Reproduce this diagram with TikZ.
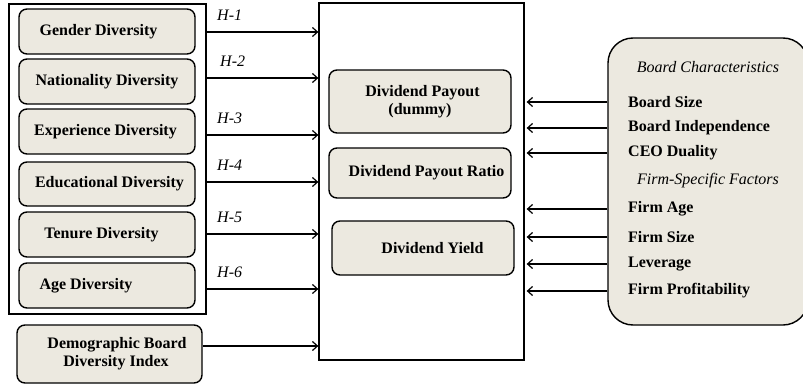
\documentclass[tikz,border=0pt]{standalone}
\usepackage{fontspec}
\setmainfont{Liberation Serif}
\usetikzlibrary{arrows.meta}

\definecolor{boxfill}{RGB}{236,233,224}

\tikzset{
  varbox/.style={draw, line width=1.4pt, rounded corners=8pt, fill=boxfill,
    align=center, font=\fontsize{16}{18}\selectfont\bfseries},
  frame/.style={draw, line width=1.3pt},
  link/.style={line width=1.1pt, -{Straight Barb[length=5pt,width=9pt,line width=1.2pt]}},
  hyp/.style={anchor=south west, xshift=9pt, yshift=10pt, inner sep=1pt,
    font=\fontsize{16}{18}\selectfont\itshape},
  item/.style={anchor=west, inner sep=0pt, font=\fontsize{16}{18}\selectfont\bfseries},
  head/.style={inner sep=0pt, font=\fontsize{16}{18}\selectfont\itshape}
}

\begin{document}
\begin{tikzpicture}[x=1pt,y=-1pt]
			\useasboundingbox (0,0) rectangle (803,388);
			% independent variables
			\node[frame, minimum width=197pt, minimum height=310pt] (frame) at (107.5,159) {};
			\node[varbox, minimum width=176pt, minimum height=45pt] (gender) at (107,31.5) {Gender Diversity\hspace*{17pt}};
			\node[varbox, minimum width=176pt, minimum height=45pt] (nation) at (107,81.5) {Nationality Diversity};
			\node[varbox, minimum width=176pt, minimum height=45pt] (exper) at (107,131.5) {Experience Diversity\hspace*{3pt}};
			\node[varbox, minimum width=176pt, minimum height=44pt] (educ) at (107,184) {\hspace*{5pt}Educational Diversity};
			\node[varbox, minimum width=176pt, minimum height=45pt] (tenure) at (107,234.5) {Tenure Diversity\hspace*{11pt}};
			\node[varbox, minimum width=176pt, minimum height=45pt] (age) at (107,285.5) {Age Diversity\hspace*{42pt}};
			\node[varbox, minimum width=185pt, minimum height=58pt] (dbdi) at (109.5,354) {\hspace*{15pt}Demographic Board\\\hspace*{13pt}Diversity Index};
			% dependent variables
			\node[frame, minimum width=205pt, minimum height=357pt] (model) at (421.5,181.5) {};
			\node[varbox, minimum width=182pt, minimum height=63pt] (payout) at (420,101.5) {\hspace*{5pt}Dividend Payout\\(dummy)};
			\node[varbox, minimum width=182pt, minimum height=50pt] (ratio) at (420,173) {\hspace*{13pt}Dividend Payout Ratio};
			\node[varbox, minimum width=182pt, minimum height=54pt] (yield) at (423,248) {\hspace*{19pt}Dividend Yield};
			% controls
			\node[draw, line width=1.4pt, fill=boxfill, rounded corners=25pt,
				minimum width=200pt, minimum height=287pt] (ctrl) at (708,181.5) {};
			\node[head] (bchar) at (708,67) {Board Characteristics};
			\node[item] (bsize) at (628,102) {Board Size};
			\node[item] (bindep) at (628,128) {Board Independence};
			\node[item] (ceo) at (628,153) {CEO Duality};
			\node[head] (fsf) at (708,181) {Firm-Specific Factors};
			\node[item] (fage) at (628,209) {Firm Age};
			\node[item] (fsize) at (628,237) {Firm Size};
			\node[item] (lev) at (628,264) {Leverage};
			\node[item] (prof) at (628,291) {Firm Profitability};
			% hypotheses
			\draw[link] ([yshift=-0.5pt]gender.east -| frame.east) -- node[hyp, pos=0] {H-1} ([yshift=-0.5pt]gender.east -| model.west);
			\draw[link] ([yshift=3.5pt]nation.east -| frame.east) -- node[hyp, pos=0, xshift=3pt] {H-2} ([yshift=3.5pt]nation.east -| model.west);
			\draw[link] ([yshift=-3.5pt]exper.east -| frame.east) -- node[hyp, pos=0] {H-3} ([yshift=-3.5pt]exper.east -| model.west);
			\draw[link] ([yshift=2pt]educ.east -| frame.east) -- node[hyp, pos=0] {H-4} ([yshift=2pt]educ.east -| model.west);
			\draw[link] ([yshift=0.5pt]tenure.east -| frame.east) -- node[hyp, pos=0] {H-5} ([yshift=0.5pt]tenure.east -| model.west);
			\draw[link] ([yshift=-3.5pt]age.east -| frame.east) -- node[hyp, pos=0] {H-6} ([yshift=-3.5pt]age.east -| model.west);
			\draw[link] ([yshift=8pt]dbdi.east) -- ([yshift=8pt]dbdi.east -| model.west);
			% control links
			\foreach \c in {bsize,bindep,ceo,fage,fsize,lev,prof}
				\draw[link] (\c.west -| ctrl.west) -- ([xshift=2pt]\c.west -| model.east);
		\end{tikzpicture}
\end{document}
